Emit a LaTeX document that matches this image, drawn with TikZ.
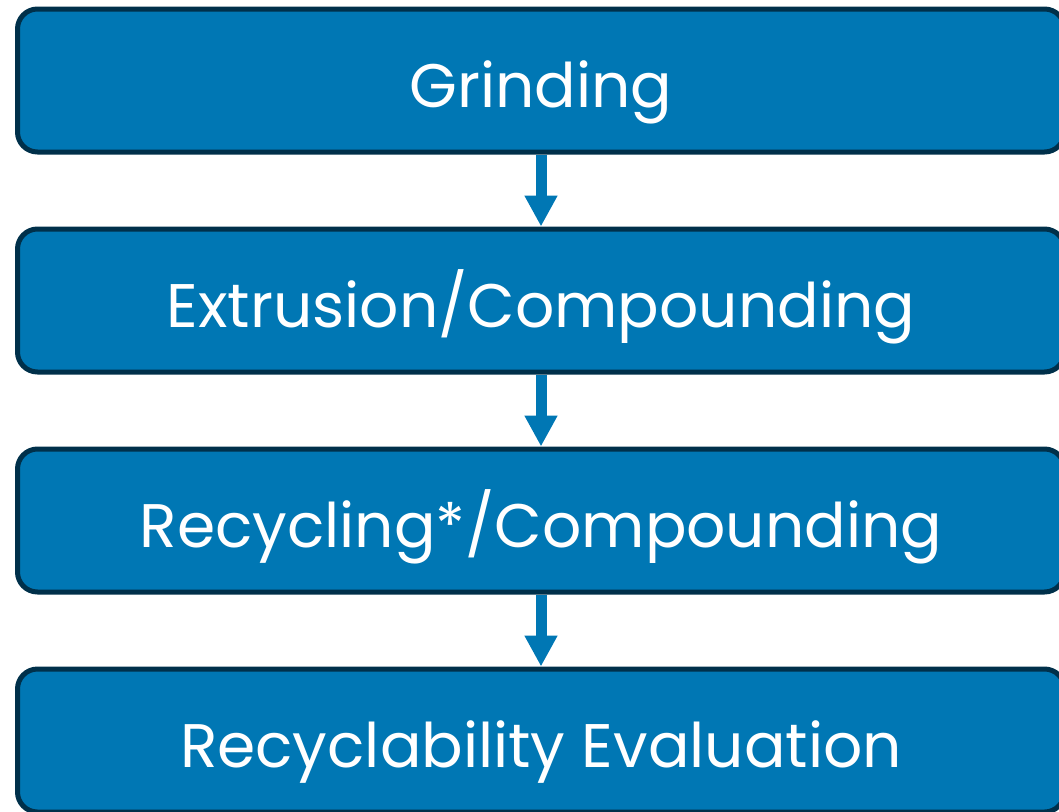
\documentclass[tikz,border=0pt]{standalone}
\usepackage{fontspec}
\setmainfont{Poppins}
\usepackage{tikz}
\usetikzlibrary{positioning}
\usetikzlibrary{arrows.meta}

\definecolor{boxblue}{RGB}{0,119,180}
\definecolor{boxline}{RGB}{0,48,74}

\begin{document}
\begin{tikzpicture}[
                x=1pt, y=1pt,
                step box/.style = {
                    draw = boxline,
                    fill = boxblue,
                    line width = 5pt,
                    rounded corners = 20pt,
                    minimum width = 1047pt,
                    minimum height = 143pt,
                    inner sep = 0pt,
                    text = white,
                    text height = 53pt,
                    text depth = 0pt,
                    font = \fontsize{61.5}{70}\selectfont
                },
                flow/.style = {
                    draw = boxblue,
                    line width = 11pt,
                    -{Triangle[width=31pt, length=31pt]}
                },
                node distance = {72pt}
            ]
            \useasboundingbox (0,0) rectangle (1059,-811);
            \clip (0,0) rectangle (1059,-811);
            %
            \node[step box] (grind) at (541,-80.5) {Grinding};
            \node[step box, below=of grind] (extr) {Extrusion/Compounding};
            \node[step box, below=of extr] (recy) {Recycling*/Compounding};
            \node[step box, below=of recy] (eval) {Recyclability Evaluation};
            %
            \draw[flow] (grind) -- (extr);
            \draw[flow] (extr) -- (recy);
            \draw[flow] (recy) -- (eval);
            %
        \end{tikzpicture}
\end{document}
